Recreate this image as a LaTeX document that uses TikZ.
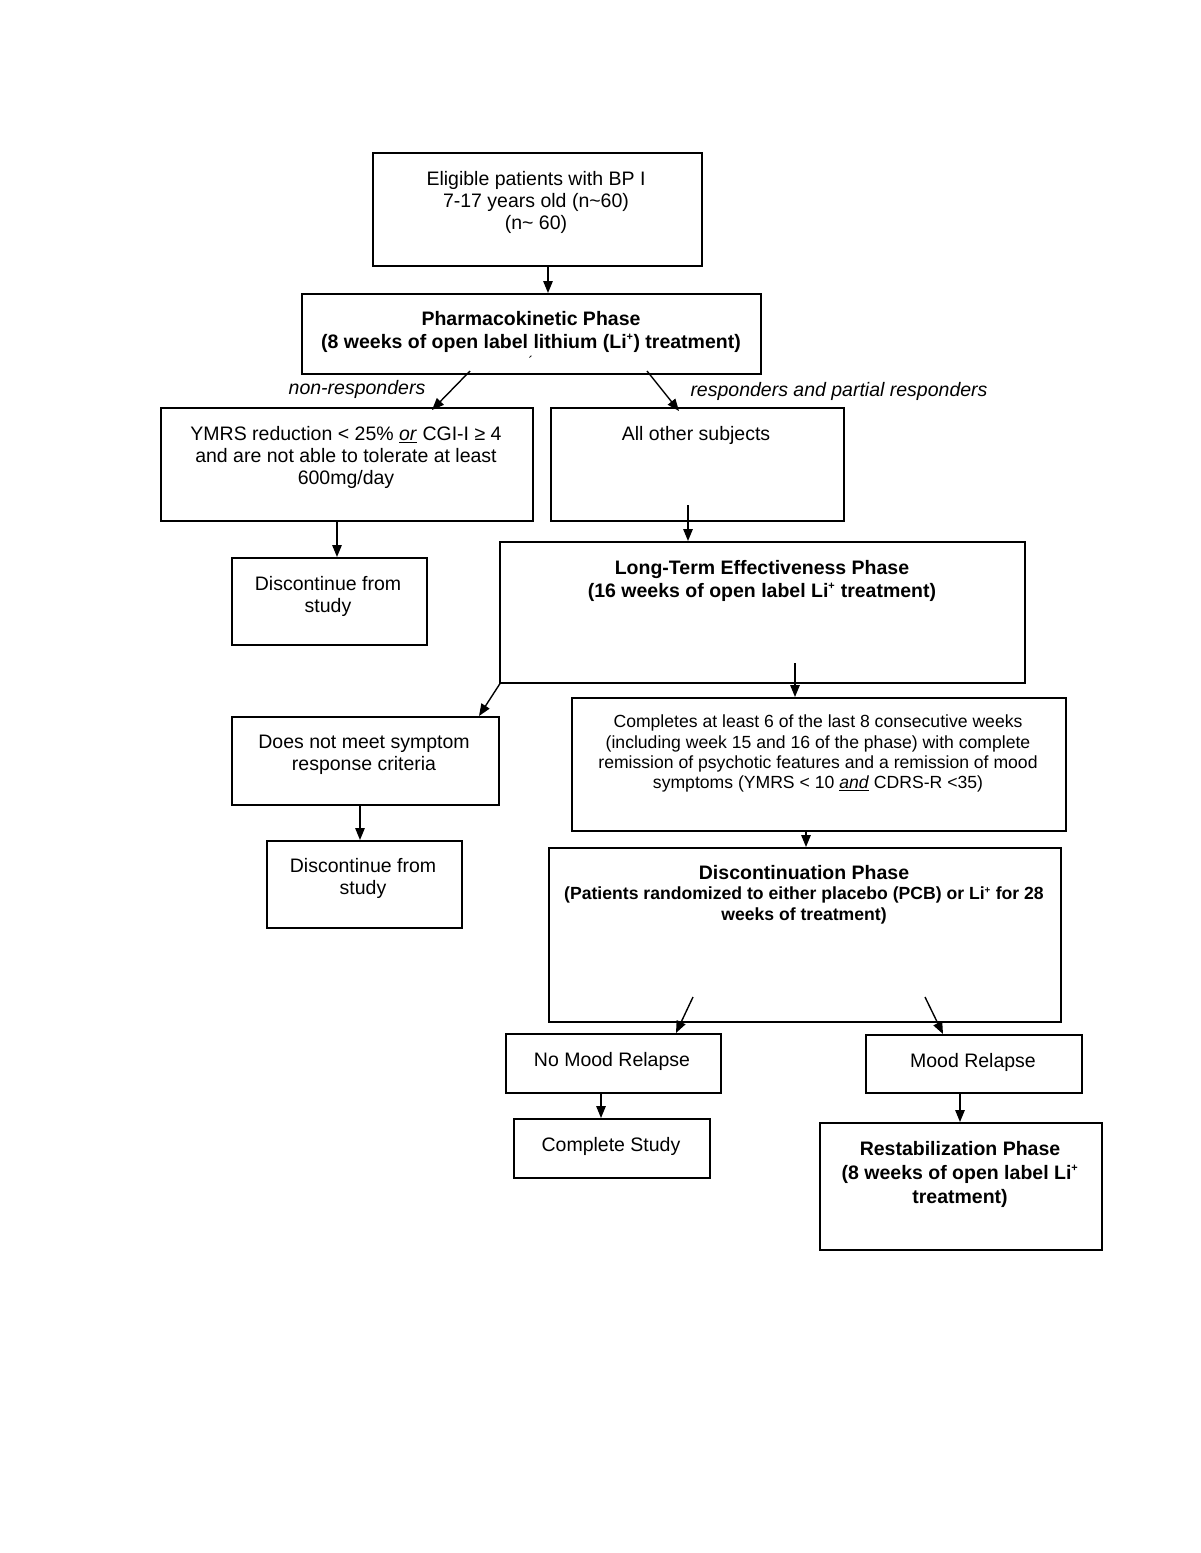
\documentclass[tikz,border=0pt]{standalone}
\usepackage{fontspec}
\setmainfont{Liberation Sans}
\usetikzlibrary{arrows.meta}
\newcommand{\supplus}{\textsuperscript{\scalebox{0.8}{+}}}
\tikzset{
  box/.style={draw, line width=1.6pt, anchor=north west, inner sep=0pt},
  txt/.style={anchor=north, align=center, inner sep=0pt, font=\fontsize{19.5}{22.3}\selectfont},
  smalltxt/.style={anchor=north, align=center, inner sep=0pt, font=\fontsize{17.6}{20.3}\selectfont},
  lbl/.style={anchor=center, inner sep=0pt, font=\fontsize{19.5}{22}\selectfont\itshape},
  arr/.style={line width=1.4pt, -{Triangle[length=12pt,width=9.5pt]}},
}
\begin{document}
\begin{tikzpicture}[x=1pt,y=-1pt]
\useasboundingbox (0,0) rectangle (1200,1553);
\fill[white] (0,0) rectangle (1200,1553);

% boxes
\node[box, minimum width=329pt, minimum height=113pt] (b1) at (372,152) {};
\node[box, minimum width=459pt, minimum height=80pt] (b2) at (301,293) {};
\node[box, minimum width=372pt, minimum height=113pt] (b3) at (160,407) {};
\node[box, minimum width=293pt, minimum height=113pt] (b4) at (550,407) {};
\node[box, minimum width=195pt, minimum height=87pt] (b5) at (231,557) {};
\node[box, minimum width=525pt, minimum height=141pt] (b6) at (499,541) {};
\node[box, minimum width=267pt, minimum height=88pt] (b7) at (231,716) {};
\node[box, minimum width=195pt, minimum height=87pt] (b8) at (266,840) {};
\node[box, minimum width=494pt, minimum height=133pt] (b9) at (571,697) {};
\node[box, minimum width=512pt, minimum height=174pt] (b10) at (548,847) {};
\node[box, minimum width=215pt, minimum height=59pt] (b11) at (505,1033) {};
\node[box, minimum width=216pt, minimum height=58pt] (b12) at (865,1034) {};
\node[box, minimum width=196pt, minimum height=59pt] (b13) at (513,1118) {};
\node[box, minimum width=282pt, minimum height=127pt] (b14) at (819,1122) {};

% texts
\node[txt] (t1) at (536,171) {Eligible patients with BP I\\7-17 years old (n\textasciitilde60)\\(n\textasciitilde{} 60)};
\node[txt, font=\fontsize{19.5}{23}\selectfont\bfseries] (t2) at (531,311) {Pharmacokinetic Phase\\(8 weeks of open label lithium (Li\supplus) treatment)};
\node[inner sep=0pt, font=\fontsize{14}{14}\selectfont] (t2b) at (531,361) {´};
\node[lbl] (l1) at (357,389) {non-responders};
\node[lbl] (l2) at (839,391) {responders and partial responders};
\node[txt] (t3) at (346,426) {YMRS reduction < 25\% \underline{\textit{or}} CGI-I ≥ 4\\and are not able to tolerate at least\\600mg/day};
\node[txt] (t4) at (696,426) {All other subjects};
\node[txt] (t5) at (328,576) {Discontinue from\\study};
\node[txt, font=\fontsize{19.5}{23}\selectfont\bfseries] (t6) at (762,560) {Long-Term Effectiveness Phase\\(16 weeks of open label Li\supplus{} treatment)};
\node[txt] (t7) at (364,735) {Does not meet symptom\\response criteria};
\node[txt] (t8) at (363,858) {Discontinue from\\study};
\node[smalltxt] (t9) at (818,715) {Completes at least 6 of the last 8 consecutive weeks\\(including week 15 and 16 of the phase) with complete\\remission of psychotic features and a remission of mood\\symptoms (YMRS < 10 \underline{\textit{and}} CDRS-R <35)};
\node[txt, font=\fontsize{19.5}{22}\selectfont\bfseries] (t10) at (804,865) {Discontinuation Phase};
\node[smalltxt, font=\fontsize{17.6}{21}\selectfont\bfseries] (t10b) at (804,887) {(Patients randomized to either placebo (PCB) or Li\supplus{} for 28\\weeks of treatment)};
\node[txt] (t11) at (612,1052) {No Mood Relapse};
\node[txt] (t12) at (973,1053) {Mood Relapse};
\node[txt] (t13) at (611,1137) {Complete Study};
\node[txt, font=\fontsize{19.5}{24}\selectfont\bfseries] (t14) at (960,1141) {Restabilization Phase\\(8 weeks of open label Li\supplus\\treatment)};

% connector end points
\coordinate (a1) at (548,265);
\coordinate (a2s) at (470,371);
\coordinate (a2e) at (432,410);
\coordinate (a3s) at (647,371);
\coordinate (a3e) at (679,411);
\coordinate (a4) at (337,520);
\coordinate (a5) at (688,505);
\coordinate (a6s) at (501,682);
\coordinate (a6e) at (479,716);
\coordinate (a7) at (795,663);
\coordinate (a8) at (360,804);
\coordinate (a9) at (806,830);
\coordinate (a10s) at (693,997);
\coordinate (a10e) at (676,1033);
\coordinate (a11s) at (925,997);
\coordinate (a11e) at (943,1034);
\coordinate (a12) at (601,1092);
\coordinate (a13) at (960,1092);

% connectors
\draw[arr] (a1) -- (a1 |- b2.north);
\draw[arr] (a2s) -- (a2e);
\draw[arr] (a3s) -- (a3e);
\draw[arr] (a4) -- (a4 |- b5.north);
\draw[arr] (a5) -- (a5 |- b6.north);
\draw[arr] (a6s) -- (a6e);
\draw[arr] (a7) -- (a7 |- b9.north);
\draw[arr] (a8) -- (a8 |- b8.north);
\draw[arr] (a9) -- (a9 |- b10.north);
\draw[arr] (a10s) -- (a10e);
\draw[arr] (a11s) -- (a11e);
\draw[arr] (a12) -- (a12 |- b13.north);
\draw[arr] (a13) -- (a13 |- b14.north);
\end{tikzpicture}
\end{document}
